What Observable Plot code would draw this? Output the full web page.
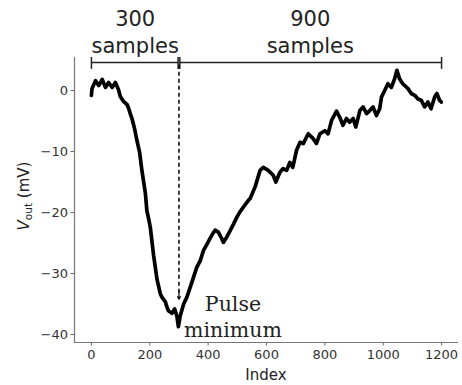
<!DOCTYPE html>
<html>
<head>
<meta charset="utf-8">
<script src="https://cdn.jsdelivr.net/npm/d3@7"></script>
<script src="https://cdn.jsdelivr.net/npm/@observablehq/plot@0.6"></script>
<style>
  html, body { margin: 0; padding: 0; background: white; }
  #chart { width: 462px; height: 385px; }
</style>
</head>
<body>
<div id="chart"></div>
<script>
// Sample index and output voltage (mV)
const sampleIndex = [0, 2, 14, 25, 37, 48, 59, 71, 82, 93, 99, 110, 122, 128, 133, 139, 148, 156, 165, 173, 185, 190, 196, 202, 213, 225, 236, 242, 253, 259, 264, 276, 285, 293, 298, 304, 316, 327, 339, 350, 361, 373, 384, 396, 407, 418, 424, 435, 447, 452, 464, 475, 487, 498, 509, 521, 538, 544, 561, 578, 589, 606, 623, 632, 646, 657, 669, 680, 690, 703, 715, 726, 743, 760, 771, 783, 800, 811, 823, 840, 851, 862, 874, 885, 897, 906, 920, 931, 943, 954, 965, 977, 988, 994, 1005, 1016, 1028, 1039, 1047, 1056, 1067, 1085, 1096, 1108, 1119, 1130, 1142, 1153, 1164, 1176, 1184, 1193, 1199];
const voltage = [-0.8, 0.3, 1.6, 0.8, 1.8, 0.5, 1.3, 0.5, 1.3, 0.1, -1.0, -1.8, -2.3, -3.0, -3.8, -4.6, -6.3, -8.2, -10.1, -13.1, -16.9, -19.7, -21.0, -22.5, -27.0, -31.0, -33.3, -33.9, -34.6, -35.5, -36.1, -36.5, -35.8, -37.0, -38.7, -37.0, -35.0, -33.9, -32.2, -30.6, -29.0, -27.9, -26.2, -25.2, -24.2, -23.3, -22.9, -23.2, -24.3, -24.9, -24.0, -23.0, -21.9, -20.8, -19.9, -19.1, -18.0, -17.7, -15.8, -13.1, -12.6, -13.1, -13.9, -15.0, -13.4, -12.8, -13.1, -11.8, -12.6, -9.8, -8.5, -8.7, -7.1, -7.9, -8.7, -7.1, -6.6, -7.1, -4.9, -3.4, -4.4, -5.7, -4.6, -5.2, -4.6, -6.0, -3.3, -2.7, -3.8, -3.3, -2.7, -4.1, -3.0, -1.1, 0.0, 1.1, 0.5, 1.9, 3.3, 1.9, 1.1, 0.3, -0.5, -0.8, -1.4, -1.6, -2.7, -1.9, -3.0, -1.1, -0.5, -1.6, -1.9];

const xTicks = [0, 200, 400, 600, 800, 1000, 1200];
const yTicks = [0, -10, -20, -30, -40];

// Bracket annotation: segment spans (in samples) and their labels
const spanStart = [0, 303];
const spanEnd = [297, 1200];
const spanCount = ["300", "900"];
const spanWord = ["samples", "samples"];
const spanLabelX = [150, 750];

// Pulse minimum marker
const pulseIndex = 300;
const pulseLabel = ["Pulse", "minimum"];

const data = sampleIndex.map((x, i) => ({x, v: voltage[i]}));
const spans = spanStart.map((s, i) => ({s, e: spanEnd[i], count: spanCount[i], word: spanWord[i], cx: spanLabelX[i]}));
const ends = spans.flatMap(d => [d.s, d.e]);

const bracketY = 4.6, barLo = 3.45, barHi = 5.4;
const xDom = [-58, 1258], yDom = [-41.3, 5.4];

const chart = Plot.plot({
  width: 462,
  height: 385,
  marginLeft: 74,
  marginRight: 4,
  marginTop: 57,
  marginBottom: 43,
  x: {domain: xDom},
  y: {domain: yDom},
  style: {fontFamily: "DejaVu Sans", color: "#333", background: "white", overflow: "visible"},
  marks: [
    Plot.axisY({ticks: yTicks, tickSize: 3.5, tickPadding: 3, fontSize: 13, label: null, stroke: "#666"}),
    Plot.axisX({ticks: xTicks, tickSize: 3.5, tickPadding: 4, fontSize: 13, label: null, stroke: "#666", tickFormat: "d"}),
    Plot.ruleX([xDom[0]], {stroke: "#777", strokeWidth: 1.2}),
    Plot.ruleY([yDom[0]], {stroke: "#777", strokeWidth: 1.2}),
    Plot.line(data, {x: "x", y: "v", stroke: "black", strokeWidth: 3.7, strokeLinejoin: "round", strokeLinecap: "round"}),
    // bracket lines
    Plot.link(spans, {x1: "s", x2: "e", y1: bracketY, y2: bracketY, stroke: "#222", strokeWidth: 1.5}),
    Plot.ruleX(ends, {x: d => d, y1: barLo, y2: barHi, stroke: "#222", strokeWidth: 1.5}),
    // dashed arrow to the pulse minimum
    Plot.link([pulseIndex], {x1: d => d, x2: d => d, y1: 4.2, y2: -33.6, stroke: "#111", strokeWidth: 1.6, strokeDasharray: "4,3"}),
    Plot.arrow([pulseIndex], {x1: d => d, x2: d => d, y1: -32.8, y2: -34.2, stroke: "#111", strokeWidth: 1.3, headLength: 8}),
    // labels
    Plot.text(spans, {x: "cx", y: 11.7, text: "count", fontSize: 21, fill: "#222"}),
    Plot.text(spans, {x: "cx", y: 7.2, text: "word", fontSize: 21, fill: "#222"}),
    Plot.text([pulseLabel[0]], {x: 485, y: -35.0, text: d => d, fontSize: 20.5, fontFamily: "DejaVu Serif", fill: "#222"}),
    Plot.text([pulseLabel[1]], {x: 485, y: -39.4, text: d => d, fontSize: 20.5, fontFamily: "DejaVu Serif", fill: "#222"})
  ]
});

document.getElementById("chart").appendChild(chart);

// Axis titles (with subscript)
const svg = d3.select(chart);
const yl = svg.append("text")
  .attr("transform", "translate(29,196) rotate(-90)")
  .attr("text-anchor", "middle")
  .attr("font-family", "DejaVu Sans")
  .attr("font-size", 15)
  .attr("fill", "#222");
yl.append("tspan").attr("font-style", "italic").text("V");
yl.append("tspan").attr("font-size", 10.5).attr("dy", 3).text("out");
yl.append("tspan").attr("dy", -3).text(" (mV)");

svg.append("text")
  .attr("x", 266)
  .attr("y", 380)
  .attr("text-anchor", "middle")
  .attr("font-family", "DejaVu Sans")
  .attr("font-size", 15)
  .attr("fill", "#222")
  .text("Index");
</script>
</body>
</html>
